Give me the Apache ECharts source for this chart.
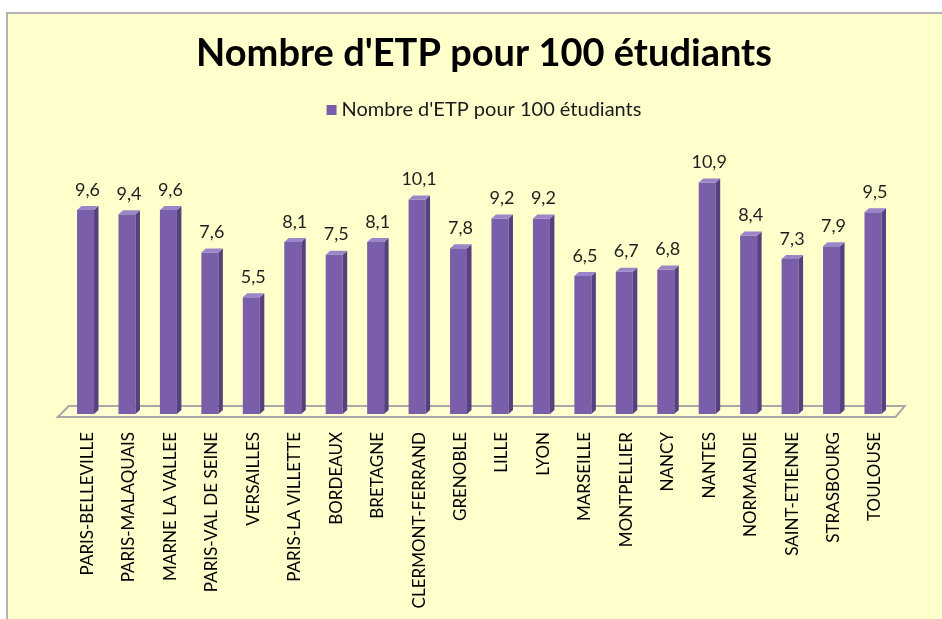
<!DOCTYPE html>
<html>
<head>
<meta charset="utf-8">
<script src="https://cdn.jsdelivr.net/npm/echarts@6/dist/echarts.min.js"></script>
<style>
html,body{margin:0;padding:0;background:#fff;overflow:hidden;width:942px;height:619px;}
#frame{position:absolute;left:6px;top:12px;width:1000px;height:700px;border-left:2px solid #b4b4b4;border-top:2px solid #b4b4b4;background:#ffffcc;}
#chart{position:absolute;left:0;top:0;width:968px;height:619px;}
</style>
</head>
<body>
<div id="frame"></div>
<div id="chart"></div>
<script>
const categories = ["PARIS-BELLEVILLE","PARIS-MALAQUAIS","MARNE LA VALLEE","PARIS-VAL DE SEINE","VERSAILLES","PARIS-LA VILLETTE","BORDEAUX","BRETAGNE","CLERMONT-FERRAND","GRENOBLE","LILLE","LYON","MARSEILLE","MONTPELLIER","NANCY","NANTES","NORMANDIE","SAINT-ETIENNE","STRASBOURG","TOULOUSE"];
const values = [9.6,9.4,9.6,7.6,5.5,8.1,7.5,8.1,10.1,7.8,9.2,9.2,6.5,6.7,6.8,10.9,8.4,7.3,7.9,9.5];
const titleText = "Nombre d'ETP pour 100 étudiants";
const seriesName = "Nombre d'ETP pour 100 étudiants";

const FRONT = '#7b5ea9', SIDE = '#574080', TOP = '#9c84c9';
const FONT = 'Lato, "Open Sans", sans-serif';

const chart = echarts.init(document.getElementById('chart'), null, {renderer:'canvas'});

function renderBar(params, api){
  const c = api.coord([api.value(0), api.value(1)]);
  const b = api.coord([api.value(0), 0]);
  const cx = c[0];
  const fl = cx - 10.5, fr = cx + 6.5, d = 4.5, r = 4;
  const top = c[1], bot = b[1];
  const label = String(api.value(1)).replace('.', ',');
  return {type:'group', children:[
    {type:'rect', shape:{x:fl, y:top, width:fr-fl, height:bot-top}, style:{fill:FRONT}},
    {type:'polygon', shape:{points:[[fr,top],[fr+d,top-r],[fr+d,bot-r],[fr,bot]]}, style:{fill:SIDE}},
    {type:'polygon', shape:{points:[[fl,top],[fl+d,top-r],[fr+d,top-r],[fr,top]]}, style:{fill:TOP}},
    {type:'text', x:cx, y:top-r-7, style:{text:label, fill:'#1e1e1e', font:'18px '+FONT, textAlign:'center', textVerticalAlign:'bottom'}}
  ]};
}

function renderFloor(params, api){
  const cs = params.coordSys;
  const y0 = api.coord([0, 0])[1];
  const front = y0 + 3, back = y0 - 8;
  return {type:'polygon', shape:{points:[[cs.x-9, front],[cs.x+2, back],[cs.x+cs.width+9, back],[cs.x+cs.width, front]]},
    style:{fill:'rgba(255,255,220,0.4)', stroke:'#a8a8a8', lineWidth:2}};
}

chart.setOption({
  backgroundColor:'transparent',
  animation:false,
  title:{text:titleText, left:'center', top:30, textStyle:{fontFamily:FONT, fontWeight:'bold', fontSize:38, color:'#000'}},
  legend:{data:[seriesName], top:95, left:'center', icon:'rect', itemWidth:10, itemHeight:10, itemGap:7,
    textStyle:{fontFamily:FONT, fontSize:20, color:'#1a1a1a'}},
  grid:{left:66.8, right:72.3, top:159, bottom:205},
  xAxis:{type:'category', data:categories, axisLine:{show:false}, axisTick:{show:false},
    axisLabel:{rotate:90, margin:18, interval:0, fontFamily:FONT, fontSize:17, color:'#000'}},
  yAxis:{type:'value', min:0, max:12, show:false},
  series:[
    {type:'custom', name:'floor', renderItem:renderFloor, data:[[0,0]], z:1, silent:true},
    {type:'custom', name:seriesName, renderItem:renderBar, itemStyle:{color:FRONT},
      data:categories.map((c,i)=>[i, values[i]]), encode:{x:0,y:1}, z:2}
  ]
});
</script>
</body>
</html>
